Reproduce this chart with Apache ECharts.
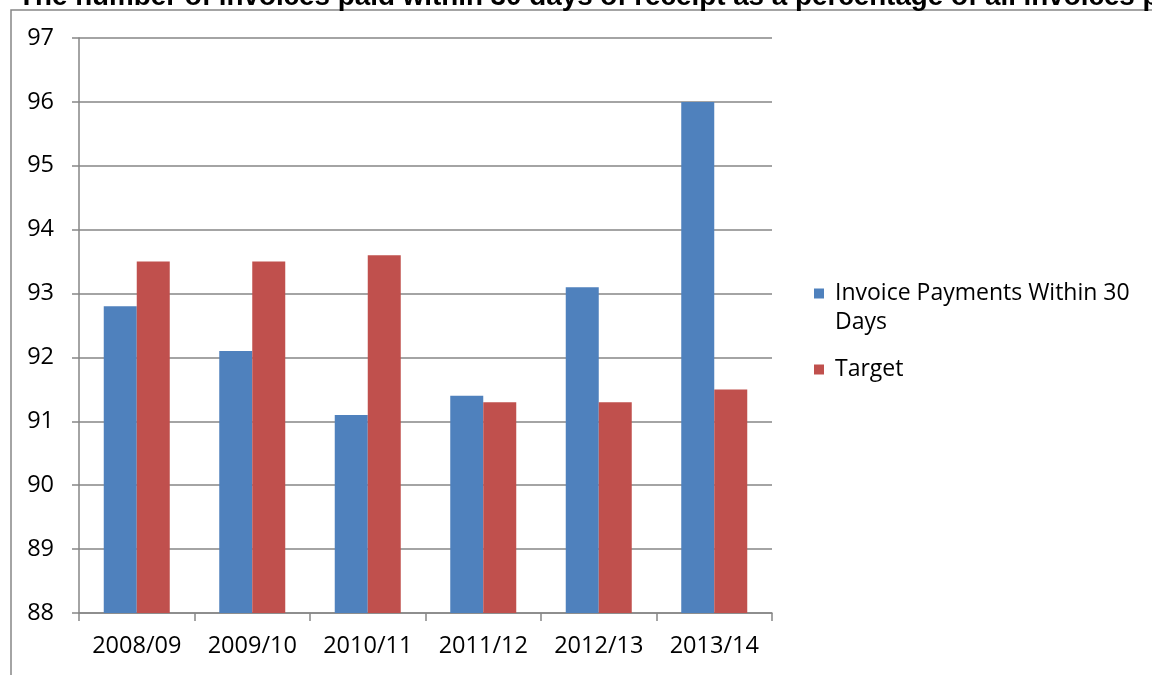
<!DOCTYPE html>
<html>
<head>
<meta charset="utf-8">
<script src="https://cdn.jsdelivr.net/npm/echarts@6/dist/echarts.min.js"></script>
<style>
  html, body { margin: 0; padding: 0; background: #fff; }
  #chart { width: 1152px; height: 675px; }
</style>
</head>
<body>
<div id="chart"></div>
<script>
const categories = ['2008/09', '2009/10', '2010/11', '2011/12', '2012/13', '2013/14']
const invoicePayments = [92.8, 92.1, 91.1, 91.4, 93.1, 96.0]
const target = [93.5, 93.5, 93.6, 91.3, 91.3, 91.5]
const yTicks = { min: 88, max: 97, step: 1 }

const chart = echarts.init(document.getElementById('chart'))
const gray = '#868686'
const font = 'Open Sans'

chart.setOption({
  animation: false,
  backgroundColor: '#fff',
  title: {
    text: 'The number of invoices paid within 30 days of receipt as a percentage of all invoices paid',
    left: 13,
    top: -22,
    textStyle: { fontFamily: 'Liberation Sans', fontWeight: 'bold', fontSize: 27.8, color: '#000' }
  },
  graphic: [
    // chart area border (left + top edges visible)
    { type: 'polyline', z: -1, shape: { points: [[11, 675], [11, 10], [1152, 10]] }, style: { stroke: gray, lineWidth: 1.5, fill: null } }
  ],
  legend: [
    {
      // blank first line keeps the icon level with the first text line
      data: ['Invoice Payments Within 30 Days'],
      orient: 'vertical',
      left: 814,
      top: 250,
      padding: 0,
      itemWidth: 10,
      itemHeight: 10,
      icon: 'rect',
      formatter: () => '\n Invoice Payments Within 30\n Days',
      textStyle: { fontFamily: font, fontSize: 23, color: '#000', lineHeight: 29 }
    },
    {
      data: ['Target'],
      orient: 'vertical',
      left: 814,
      top: 355,
      padding: 0,
      itemWidth: 10,
      itemHeight: 10,
      icon: 'rect',
      formatter: name => ' ' + name,
      textStyle: { fontFamily: font, fontSize: 23, color: '#000', lineHeight: 29 }
    }
  ],
  grid: { left: 79, right: 380, top: 38, bottom: 62 },
  xAxis: {
    type: 'category',
    data: categories,
    axisLine: { lineStyle: { color: gray, width: 1.5 } },
    axisTick: { show: true, length: 8, lineStyle: { color: gray, width: 1.5 } },
    axisLabel: { color: '#000', fontFamily: font, fontSize: 23.5, margin: 21, interval: 0 }
  },
  yAxis: {
    type: 'value',
    min: yTicks.min,
    max: yTicks.max,
    interval: yTicks.step,
    axisLine: { show: true, lineStyle: { color: gray, width: 1.5 } },
    axisTick: { show: true, length: 7, lineStyle: { color: gray, width: 1.5 } },
    splitLine: { lineStyle: { color: gray, width: 1.5 } },
    axisLabel: { color: '#000', fontFamily: font, fontSize: 23.5, margin: 25 }
  },
  series: [
    {
      name: 'Invoice Payments Within 30 Days',
      type: 'bar',
      data: invoicePayments,
      barWidth: 33,
      barGap: '0%',
      itemStyle: { color: '#4F81BD' }
    },
    {
      name: 'Target',
      type: 'bar',
      data: target,
      barWidth: 33,
      itemStyle: { color: '#C0504D' }
    }
  ]
})
</script>
</body>
</html>
